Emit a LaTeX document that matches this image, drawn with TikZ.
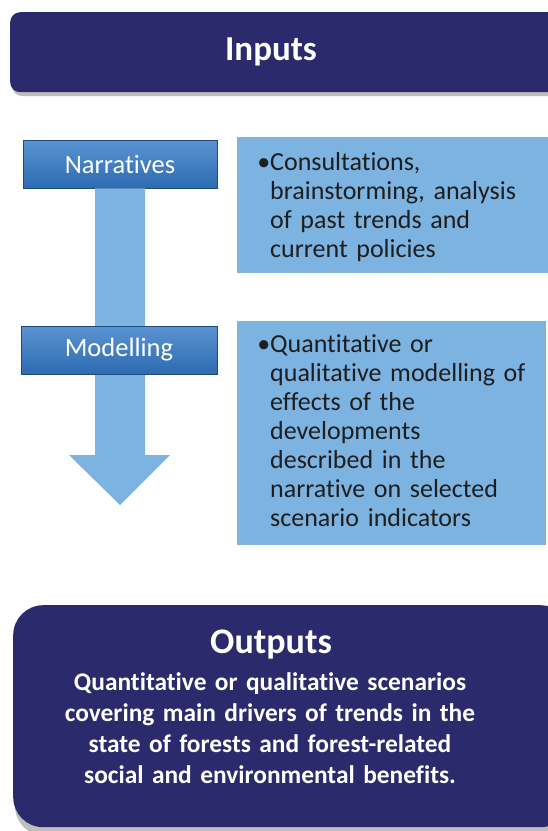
\documentclass[tikz,border=0pt]{standalone}
\usepackage{fontspec}
\setmainfont{Carlito}[Ligatures=NoCommon]
\usetikzlibrary{positioning}
\definecolor{inNavy}{HTML}{2B2A6C}
\definecolor{stepBlue}{HTML}{2D6AB0}
\definecolor{stepBlueTop}{HTML}{5A94D3}
\definecolor{noteBlue}{HTML}{7DB3E1}
\definecolor{noteText}{HTML}{1E1E1E}
\begin{document}
\begin{tikzpicture}[x=1pt, y=-1pt,
  banner/.style={fill=inNavy, rounded corners=10pt, inner sep=0pt, anchor=north west},
  bannershadow/.style={fill=black, opacity=0.25, rounded corners=10pt},
  bannertext/.style={text=white, font=\bfseries\fontsize{35}{40}\selectfont, anchor=base},
  stepbox/.style={top color=stepBlueTop, bottom color=stepBlue, draw=stepBlue!70!black,
    line width=0.6pt, minimum height=48pt, inner sep=0pt, text=white,
    font=\fontsize{26.5}{30}\selectfont},
  notebox/.style={fill=noteBlue, inner sep=0pt, anchor=north west},
  notetext/.style={text=noteText, text width=275pt, align=left, inner sep=0pt,
    anchor=base west, font=\fontsize{26}{29}\selectfont},
  flowarrow/.style={fill=noteBlue}]
\useasboundingbox (0,0) rectangle (548,831);
% Inputs banner
\fill[bannershadow] (12,16) rectangle (570,96);
\node[banner, minimum width=560pt, minimum height=80pt] (inputs) at (10,12) {};
\node[bannertext] (inputsLbl) at (271,60) {Inputs};
% Explanation boxes
\node[notebox, minimum width=320pt, minimum height=136pt] (narrNote) at (237,137) {};
\node[notebox, minimum width=309pt, minimum height=224pt] (modNote) at (237,321) {};
\node[notetext] (narrTxt) at (270,170) {\llap{•}Consultations,\\brainstorming, analysis\\of past trends and\\current policies};
\node[notetext] (modTxt) at (270,352) {\llap{•}Quantitative or\\qualitative modelling of\\effects of the\\developments\\described in the\\narrative on selected\\scenario indicators};
% Flow arrow behind the steps
\node[stepbox, minimum width=194pt] (narr) at (120,164) {Narratives};
\coordinate (tip) at (120,505);
\fill[flowarrow] ([xshift=-25pt]narr.south) -- ([xshift=-25pt,yshift=50pt]tip)
  -- ([xshift=-51pt,yshift=50pt]tip) -- (tip) -- ([xshift=50pt,yshift=50pt]tip)
  -- ([xshift=25pt,yshift=50pt]tip) -- ([xshift=25pt]narr.south) -- cycle;
\node[stepbox, minimum width=196pt] (model) at (119,350) {Modelling};
% Outputs banner
\fill[bannershadow, rounded corners=30pt] (15,609) rectangle (572,836);
\node[banner, rounded corners=30pt, minimum width=557pt, minimum height=222pt] (outputs) at (13,605) {};
\node[bannertext, font=\bfseries\fontsize{36}{40}\selectfont] (outputsLbl) at (271,653) {Outputs};
\node[text=white, font=\bfseries\fontsize{25.4}{31}\selectfont, align=center, text width=500pt,
  inner sep=0pt, anchor=base] (outputsTxt) at (270,690)
  {Quantitative or qualitative scenarios\\covering main drivers of trends in the\\state of forests and forest-related\\social and environmental benefits.};
\end{tikzpicture}
\end{document}
